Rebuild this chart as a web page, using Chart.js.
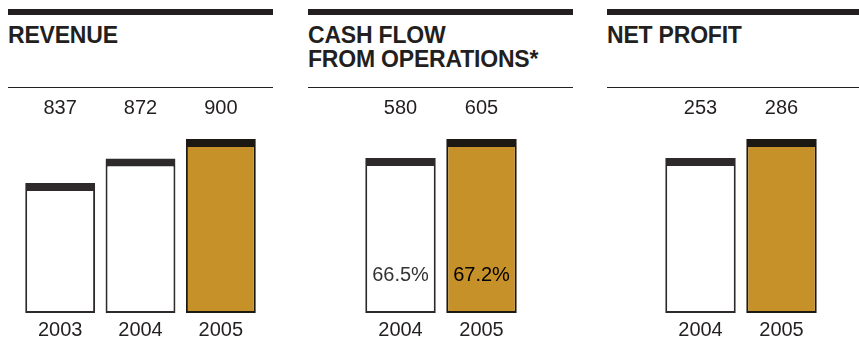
<!DOCTYPE html>
<html>
<head>
<meta charset="utf-8">
<script src="https://cdn.jsdelivr.net/npm/chart.js@4.4.1/dist/chart.umd.min.js"></script>
<style>
    html, body { margin: 0; padding: 0; background: #fff; }
    body { width: 859px; height: 345px; position: relative; overflow: hidden; font-family: "Liberation Sans", Arial, sans-serif; color: #231f20; }
    .rule-thick { position: absolute; top: 9px; height: 6px; background: #231f20; }
    .rule-thin { position: absolute; top: 87px; height: 1px; background: #231f20; }
    .title { position: absolute; top: 24px; font-weight: bold; font-size: 23px; line-height: 23.5px; letter-spacing: -0.2px; }
    .box { position: absolute; top: 90px; height: 255px; }
</style>
</head>
<body>
<div class="rule-thick" style="left:8px;width:265px"></div>
<div class="rule-thick" style="left:308px;width:265px"></div>
<div class="rule-thick" style="left:607px;width:260px"></div>
<div class="rule-thin" style="left:8px;width:265px"></div>
<div class="rule-thin" style="left:308px;width:265px"></div>
<div class="rule-thin" style="left:607px;width:260px"></div>
<div class="title" style="left:8px">REVENUE</div>
<div class="title" style="left:308px">CASH FLOW<br>FROM OPERATIONS*</div>
<div class="title" style="left:607px">NET PROFIT</div>

<div class="box" style="left:20px;width:241px"><canvas id="revenueChart"></canvas></div>
<div class="box" style="left:360px;width:162px"><canvas id="cashChart"></canvas></div>
<div class="box" style="left:660px;width:162px"><canvas id="profitChart"></canvas></div>

<script>
const revenueYears = ['2003', '2004', '2005'];
const revenueValues = [837, 872, 900];

const cashYears = ['2004', '2005'];
const cashValues = [580, 605];
const cashMargins = ['66.5%', '67.2%'];

const profitYears = ['2004', '2005'];
const profitValues = [253, 286];

const INK = '#231f20';
const GOLD = '#c79129';
const FONT = { family: '"Liberation Sans", Arial, sans-serif', size: 20 };

// percentages written near the foot of the bars
const marginLabels = {
    id: 'marginLabels',
    afterDatasetsDraw(chart, args, opts) {
        if (!opts.labels) return;
        const { ctx, chartArea } = chart;
        const meta = chart.getDatasetMeta(0);
        ctx.save();
        ctx.font = `${FONT.size}px ${FONT.family}`;
        ctx.textAlign = 'center';
        ctx.textBaseline = 'middle';
        meta.data.forEach((bar, i) => {
            ctx.fillStyle = i === meta.data.length - 1 ? '#000' : '#333';
            ctx.fillText(opts.labels[i], bar.x, chartArea.bottom - 38);
        });
        ctx.restore();
    }
};

const makeChart = (id, years, values, yMin, yMax, margins) => {
    const last = values.length - 1;
    return new Chart(document.getElementById(id), {
        type: 'bar',
        data: {
            labels: years,
            datasets: [{
                data: values,
                base: yMin,
                backgroundColor: values.map((v, i) => (i === last ? GOLD : '#fff')),
                borderColor: values.map((v, i) => (i === last ? '#1c1812' : '#2e2a2b')),
                borderWidth: { top: 8, left: 2, right: 2, bottom: 2 },
                borderSkipped: false,
                barPercentage: 0.87,
                categoryPercentage: 1
            }]
        },
        options: {
            responsive: true,
            maintainAspectRatio: false,
            animation: false,
            layout: { padding: 0 },
            plugins: {
                legend: { display: false },
                tooltip: { enabled: false },
                marginLabels: { labels: margins }
            },
            scales: {
                x: {
                    offset: true,
                    grid: { display: false, drawTicks: false },
                    border: { display: false },
                    ticks: { color: INK, font: FONT, padding: 5 },
                    afterFit: (scale) => { scale.height = 32; }
                },
                xTop: {
                    type: 'category',
                    position: 'top',
                    labels: values.map(String),
                    offset: true,
                    grid: { display: false, drawTicks: false },
                    border: { display: false },
                    ticks: { color: INK, font: FONT, padding: 0 },
                    afterFit: (scale) => { scale.height = 30; }
                },
                y: { display: false, beginAtZero: false, min: yMin, max: yMax }
            }
        },
        plugins: [marginLabels]
    });
};

makeChart('revenueChart', revenueYears, revenueValues, 651, 927, null);
makeChart('cashChart', cashYears, cashValues, 376, 630, cashMargins);
makeChart('profitChart', profitYears, profitValues, -16, 319, null);
</script>
</body>
</html>
